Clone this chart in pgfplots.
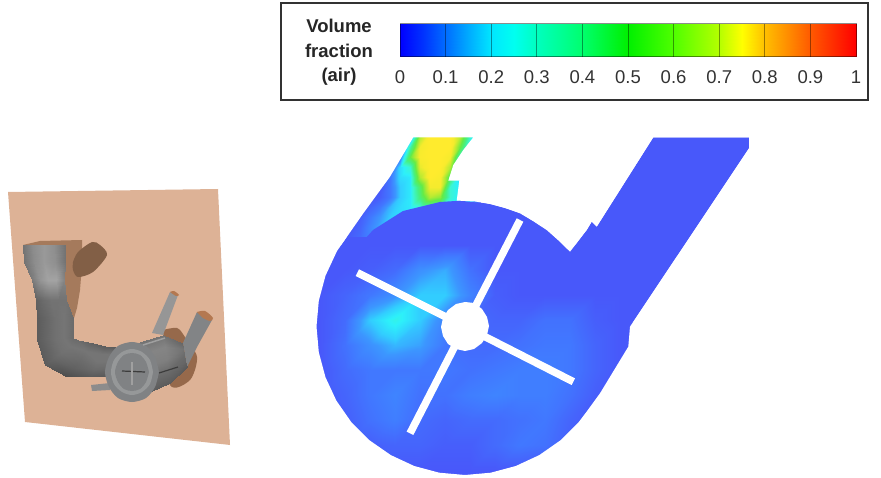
\documentclass[border=0pt]{standalone}
\usepackage{fontspec}
\setmainfont{Liberation Sans}
\usepackage{pgfplots}
\pgfplotsset{compat=1.18}
\pgfplotsset{
 colormap={barmap}{rgb255(0cm)=(0,0,255) rgb255(1cm)=(0,50,255) rgb255(2cm)=(0,110,255) rgb255(4cm)=(0,230,255) rgb255(5cm)=(0,255,240) rgb255(6cm)=(0,255,190) rgb255(8cm)=(0,255,110) rgb255(10cm)=(0,240,0) rgb255(12cm)=(80,255,0) rgb255(14cm)=(180,255,0) rgb255(15cm)=(255,255,0) rgb255(16cm)=(255,190,0) rgb255(18cm)=(255,90,0) rgb255(20cm)=(255,0,0)},
 colormap={fieldmap}{rgb255(0cm)=(72,88,250) rgb255(1cm)=(72,88,250) rgb255(2cm)=(65,120,255) rgb255(3cm)=(60,150,255) rgb255(4cm)=(50,205,255) rgb255(5cm)=(45,240,250) rgb255(6cm)=(60,245,210) rgb255(8cm)=(70,240,130) rgb255(10cm)=(100,235,70) rgb255(12cm)=(180,235,50) rgb255(14cm)=(245,235,45) rgb255(15cm)=(255,235,45) rgb255(20cm)=(255,235,45)},
 colormap={greymap}{rgb255(0cm)=(0,0,0) rgb255(1cm)=(255,255,255)},
}
\definecolor{plate}{RGB}{221,178,150}
\definecolor{basef}{RGB}{72,88,250}
\begin{document}
\begin{tikzpicture}
\path[use as bounding box] (0,0) rectangle (881pt,478pt);
\begin{axis}[scale only axis,width=881pt,height=478pt,xmin=0,xmax=881,ymin=0,ymax=478,y dir=reverse,hide axis,clip=false,point meta min=0,point meta max=1]
% --- 3D model
\addplot[fill=plate,draw=none] coordinates {(8,192)(218,189)(230,445)(25,422)};
\addplot[fill={rgb,255:red,165;green,122;blue,92},draw=none] coordinates {(23,245)(40,241)(82,240)(82,265)(80,290)(77,308)(72,325)(65,325)(60,270)};
\addplot[fill={rgb,255:red,130;green,95;blue,70},draw=none,smooth] coordinates {(73,262)(78,252)(92,242)(100,245)(107,255)(93,272)(78,277)(73,270)(73,262)};
\addplot[fill={rgb,255:red,150;green,105;blue,75},draw=none,smooth] coordinates {(163,330)(177,328)(185,337)(197,357)(190,380)(170,385)(163,330)};
\addplot[surf,shader=interp,colormap name=greymap,mesh/cols=5,mesh/rows=10,point meta=explicit] table[meta=c,row sep=\\] {
x y c\\
23 245 .45\\ 33.5 245 .55\\ 44 245 .6\\ 54.5 245 .56\\ 65 245 .45\\
24 262 .45\\ 34.25 262 .55\\ 44.5 262 .6\\ 54.75 262 .56\\ 65 262 .45\\
32 280 .48\\ 40 280 .58\\ 48 280 .64\\ 56 280 .64\\ 64 280 .52\\
36 300 .38\\ 43.5 300 .42\\ 51 300 .45\\ 58.5 300 .45\\ 66 300 .45\\
37 320 .36\\ 46 319.5 .4\\ 55 319 .44\\ 64 318.5 .46\\ 73 318 .42\\
37 340 .36\\ 46 339.5 .4\\ 55 339 .44\\ 64 338.5 .46\\ 73 338 .42\\
45 365 .36\\ 53 359 .4\\ 61.5 352.5 .44\\ 70 346 .46\\ 78 340 .42\\
67 377 .3\\ 73.5 368.5 .38\\ 80 360 .42\\ 86.5 351.5 .46\\ 93 343 .38\\
90 377 .35\\ 93.75 369.25 .42\\ 97.5 361.5 .46\\ 101.25 353.75 .46\\ 105 346 .36\\
125 375 .35\\ 125 368 .42\\ 125 361.5 .46\\ 125 355 .46\\ 125 348 .36\\
};
\addplot[fill={rgb,255:red,150;green,150;blue,150},draw=none] coordinates {(152,333)(170,292)(178,295)(163,335)};
\addplot[fill={rgb,255:red,130;green,132;blue,134},draw=none] coordinates {(183,343)(197,312)(212,320)(197,347)(187,367)};
\addplot[fill={rgb,255:red,180;green,120;blue,80},draw=none,smooth] coordinates {(197,312)(205,311)(213,318)(210,321)(203,318)(197,312)};
\addplot[fill={rgb,255:red,180;green,120;blue,80},draw=none,smooth] coordinates {(170,292)(174,291)(179,295)(176,296)(170,292)};
\addplot[surf,shader=interp,colormap name=greymap,mesh/cols=5,mesh/rows=3,point meta=explicit] table[meta=c,row sep=\\] {
x y c\\
123 347 .45\\ 125 360 .52\\ 127 373 .5\\ 129 387 .42\\ 132 400 .36\\
163 335 .45\\ 165 347 .52\\ 167 359 .5\\ 168 371 .42\\ 170 383 .36\\
182 343 .4\\ 183 349 .45\\ 184 355 .42\\ 185 361 .4\\ 187 367 .35\\
};
\addplot[fill={rgb,255:red,140;green,140;blue,140},draw=none] coordinates {(91,385)(110,383)(110,390)(92,391)};
\addplot[fill={rgb,255:red,128;green,130;blue,132},draw=none,smooth] coordinates {(159,372)(155,357)(146,346)(132,342)(118,346)(109,357)(105,372)(109,387)(118,398)(132,402)(146,398)(155,387)(159,372)};
\addplot[fill={rgb,255:red,150;green,152;blue,153},draw=none,smooth] coordinates {(153,372)(150,360)(142,352)(132,349)(122,352)(114,360)(111,372)(114,384)(122,392)(132,395)(142,392)(150,384)(153,372)};
\addplot[fill={rgb,255:red,128;green,130;blue,132},draw=none,smooth] coordinates {(149,372)(146,362)(140,355)(132,353)(124,355)(118,362)(115,372)(118,382)(124,389)(132,391)(140,389)(146,382)(149,372)};
\addplot[draw={rgb,255:red,60;green,60;blue,60},line width=1.2pt] coordinates {(122,371)(145,372)};
\addplot[draw={rgb,255:red,160;green,160;blue,160},line width=1.2pt] coordinates {(132,362)(132,385)};
\addplot[draw={rgb,255:red,60;green,60;blue,60},line width=1.2pt] coordinates {(159,373)(178,367)};
\addplot[draw={rgb,255:red,160;green,160;blue,160},line width=1.5pt] coordinates {(143,345)(165,338)};
% --- legend
\addplot[fill=white,draw={rgb,255:red,50;green,50;blue,50},line width=1.4pt] coordinates {(281,3)(868,3)(868,100)(281,100)} --cycle;
\addplot[surf,shader=interp,colormap name=barmap,mesh/cols=21,mesh/rows=2,point meta=explicit] table[meta=c,row sep=\\] {
x y c\\
400 24 0\\ 422.8 24 .05\\ 445.6 24 .1\\ 468.4 24 .15\\ 491.2 24 .2\\ 514 24 .25\\ 536.8 24 .3\\ 559.6 24 .35\\ 582.4 24 .4\\ 605.2 24 .45\\ 628 24 .5\\ 650.8 24 .55\\ 673.6 24 .6\\ 696.4 24 .65\\ 719.2 24 .7\\ 742 24 .75\\ 764.8 24 .8\\ 787.6 24 .85\\ 810.4 24 .9\\ 833.2 24 .95\\ 856 24 1\\
400 57 0\\ 422.8 57 .05\\ 445.6 57 .1\\ 468.4 57 .15\\ 491.2 57 .2\\ 514 57 .25\\ 536.8 57 .3\\ 559.6 57 .35\\ 582.4 57 .4\\ 605.2 57 .45\\ 628 57 .5\\ 650.8 57 .55\\ 673.6 57 .6\\ 696.4 57 .65\\ 719.2 57 .7\\ 742 57 .75\\ 764.8 57 .8\\ 787.6 57 .85\\ 810.4 57 .9\\ 833.2 57 .95\\ 856 57 1\\
};
\addplot[draw=black,opacity=.45,line width=1pt] coordinates {(400,24)(856,24)(856,57)(400,57)} --cycle;
\addplot[draw=black,opacity=.4,line width=1pt] coordinates {(445.6,24)(445.6,57)};
\addplot[draw=black,opacity=.4,line width=1pt] coordinates {(491.2,24)(491.2,57)};
\addplot[draw=black,opacity=.4,line width=1pt] coordinates {(536.8,24)(536.8,57)};
\addplot[draw=black,opacity=.4,line width=1pt] coordinates {(582.4,24)(582.4,57)};
\addplot[draw=black,opacity=.4,line width=1pt] coordinates {(628,24)(628,57)};
\addplot[draw=black,opacity=.4,line width=1pt] coordinates {(673.6,24)(673.6,57)};
\addplot[draw=black,opacity=.4,line width=1pt] coordinates {(719.2,24)(719.2,57)};
\addplot[draw=black,opacity=.4,line width=1pt] coordinates {(764.8,24)(764.8,57)};
\addplot[draw=black,opacity=.4,line width=1pt] coordinates {(810.4,24)(810.4,57)};
\node[font=\fontsize{18.5}{18.5}\selectfont\bfseries,text=black!85] at (axis cs:339,26) {Volume};
\node[font=\fontsize{18.5}{18.5}\selectfont\bfseries,text=black!85] at (axis cs:339,51) {fraction};
\node[font=\fontsize{18.5}{18.5}\selectfont\bfseries,text=black!85] at (axis cs:339,77) {(air)};
\foreach \xx/\tt in {400/0,445.6/0.1,491.2/0.2,536.8/0.3,582.4/0.4,628/0.5,673.6/0.6,719.2/0.7,764.8/0.8,810.4/0.9,856/1}{
\edef\tmp{\noexpand\node[font=\noexpand\fontsize{18.5}{18.5}\noexpand\selectfont,text=black!80] at (axis cs:\xx,77) {\tt};}\tmp
}
% --- field base
\addplot[fill=basef,draw=none] coordinates {(413.3,137.3)(390,176.7)(363.3,213.3)(337,251)(325.5,275.7)(318.8,300.7)(316.5,326.5)(318.8,352.3)(325.5,377.3)(336.4,400.7)(351.2,422)(369.5,440.3)(390.8,455.1)(414.2,466)(439.2,472.7)(465,475)(490.8,472.7)(515.8,466)(539.3,455.1)(560.5,440.3)(578.8,422)(586.6,411.7)(600,393.3)(628.3,346.7)(630,326.7)(749,148.3)(749,137.3)(653.3,137.3)(596.7,226.7)(591.7,221.7)(586.7,230)(570,251.7)(558,240)(546.7,230)(533,221)(520,213.3)(505,208)(490,204)(475,201.5)(460,200.7)(456.7,200.7)(459.3,180.7)(448.3,180.7)(453.3,165)(463.3,150)(473.3,137.3)};
% stream
\addplot[surf,shader=interp,colormap name=fieldmap,mesh/cols=15,mesh/rows=11,point meta=explicit] table[meta=c,row sep=\\] {
x y c\\
340 137 .05\\ 350 137 .05\\ 360 137 .05\\ 370 137 .05\\ 380 137 .05\\ 390 137 .05\\ 400 137 .05\\ 410 137 .1\\ 420 137 .6\\ 430 137 .75\\ 440 137 .75\\ 450 137 .75\\ 460 137 .6\\ 470 137 .3\\ 480 137 .1\\
340 147 .05\\ 350 147 .05\\ 360 147 .05\\ 370 147 .05\\ 380 147 .05\\ 390 147 .05\\ 400 147 .05\\ 410 147 .35\\ 420 147 .7\\ 430 147 .75\\ 440 147 .75\\ 450 147 .75\\ 460 147 .5\\ 470 147 .2\\ 480 147 .1\\
340 157 .05\\ 350 157 .05\\ 360 157 .05\\ 370 157 .05\\ 380 157 .05\\ 390 157 .05\\ 400 157 .1\\ 410 157 .5\\ 420 157 .72\\ 430 157 .75\\ 440 157 .75\\ 450 157 .7\\ 460 157 .3\\ 470 157 .1\\ 480 157 .1\\
340 167 .05\\ 350 167 .05\\ 360 167 .05\\ 370 167 .05\\ 380 167 .05\\ 390 167 .05\\ 400 167 .22\\ 410 167 .3\\ 420 167 .68\\ 430 167 .75\\ 440 167 .75\\ 450 167 .6\\ 460 167 .2\\ 470 167 .1\\ 480 167 .1\\
340 177 .05\\ 350 177 .05\\ 360 177 .05\\ 370 177 .05\\ 380 177 .05\\ 390 177 .1\\ 400 177 .22\\ 410 177 .24\\ 420 177 .6\\ 430 177 .75\\ 440 177 .72\\ 450 177 .45\\ 460 177 .22\\ 470 177 .2\\ 480 177 .05\\
340 187 .05\\ 350 187 .05\\ 360 187 .05\\ 370 187 .05\\ 380 187 .05\\ 390 187 .1\\ 400 187 .2\\ 410 187 .24\\ 420 187 .45\\ 430 187 .7\\ 440 187 .7\\ 450 187 .3\\ 460 187 .24\\ 470 187 .22\\ 480 187 .05\\
340 197 .05\\ 350 197 .05\\ 360 197 .05\\ 370 197 .05\\ 380 197 .06\\ 390 197 .1\\ 400 197 .2\\ 410 197 .24\\ 420 197 .42\\ 430 197 .6\\ 440 197 .55\\ 450 197 .3\\ 460 197 .24\\ 470 197 .22\\ 480 197 .05\\
340 207 .05\\ 350 207 .05\\ 360 207 .05\\ 370 207 .07\\ 380 207 .1\\ 390 207 .18\\ 400 207 .22\\ 410 207 .24\\ 420 207 .3\\ 430 207 .35\\ 440 207 .35\\ 450 207 .25\\ 460 207 .22\\ 470 207 .2\\ 480 207 .05\\
340 217 .05\\ 350 217 .05\\ 360 217 .06\\ 370 217 .1\\ 380 217 .15\\ 390 217 .2\\ 400 217 .22\\ 410 217 .22\\ 420 217 .22\\ 430 217 .22\\ 440 217 .22\\ 450 217 .2\\ 460 217 .2\\ 470 217 .1\\ 480 217 .05\\
340 227 .05\\ 350 227 .05\\ 360 227 .07\\ 370 227 .12\\ 380 227 .17\\ 390 227 .18\\ 400 227 .1\\ 410 227 .05\\ 420 227 .05\\ 430 227 .05\\ 440 227 .05\\ 450 227 .05\\ 460 227 .05\\ 470 227 .05\\ 480 227 .05\\
340 237 .05\\ 350 237 .06\\ 360 237 .08\\ 370 237 .12\\ 380 237 .12\\ 390 237 .1\\ 400 237 .05\\ 410 237 .05\\ 420 237 .05\\ 430 237 .05\\ 440 237 .05\\ 450 237 .05\\ 460 237 .05\\ 470 237 .05\\ 480 237 .05\\
};
% disc over the stream
\addplot[fill=basef,draw=none] coordinates {(335,280)(345,262)(357,248)(373,230)(403,211)(440,202)(460,200.7)(490,204)(520,213)(547,230)(570,251)(640,330)(640,478)(310,478)(300,300)};
% disc blobs
\addplot[surf,shader=interp,colormap name=fieldmap,mesh/cols=13,mesh/rows=10,point meta=explicit] table[meta=c,row sep=\\] {
x y c\\
320 245 .05\\ 345 245 .05\\ 370 245 .05\\ 395 245 .05\\ 420 245 .05\\ 445 245 .05\\ 470 245 .05\\ 495 245 .05\\ 520 245 .05\\ 545 245 .05\\ 570 245 .05\\ 595 245 .05\\ 620 245 .05\\
320 270 .05\\ 345 270 .05\\ 370 270 .06\\ 395 270 .08\\ 420 270 .14\\ 445 270 .17\\ 470 270 .09\\ 495 270 .05\\ 520 270 .05\\ 545 270 .05\\ 570 270 .05\\ 595 270 .05\\ 620 270 .05\\
320 295 .05\\ 345 295 .07\\ 370 295 .1\\ 395 295 .14\\ 420 295 .2\\ 445 295 .2\\ 470 295 .12\\ 495 295 .06\\ 520 295 .05\\ 545 295 .05\\ 570 295 .05\\ 595 295 .05\\ 620 295 .05\\
320 320 .05\\ 345 320 .08\\ 370 320 .2\\ 395 320 .27\\ 420 320 .2\\ 445 320 .12\\ 470 320 .08\\ 495 320 .07\\ 520 320 .07\\ 545 320 .09\\ 570 320 .09\\ 595 320 .06\\ 620 320 .05\\
320 345 .05\\ 345 345 .09\\ 370 345 .14\\ 395 345 .18\\ 420 345 .16\\ 445 345 .1\\ 470 345 .08\\ 495 345 .08\\ 520 345 .09\\ 545 345 .1\\ 570 345 .1\\ 595 345 .07\\ 620 345 .05\\
320 370 .05\\ 345 370 .08\\ 370 370 .1\\ 395 370 .1\\ 420 370 .1\\ 445 370 .1\\ 470 370 .09\\ 495 370 .1\\ 520 370 .11\\ 545 370 .11\\ 570 370 .1\\ 595 370 .07\\ 620 370 .05\\
320 395 .05\\ 345 395 .07\\ 370 395 .1\\ 395 395 .12\\ 420 395 .09\\ 445 395 .09\\ 470 395 .11\\ 495 395 .12\\ 520 395 .11\\ 545 395 .11\\ 570 395 .09\\ 595 395 .06\\ 620 395 .05\\
320 420 .05\\ 345 420 .06\\ 370 420 .09\\ 395 420 .11\\ 420 420 .08\\ 445 420 .07\\ 470 420 .08\\ 495 420 .08\\ 520 420 .09\\ 545 420 .1\\ 570 420 .07\\ 595 420 .05\\ 620 420 .05\\
320 445 .05\\ 345 445 .05\\ 370 445 .06\\ 395 445 .07\\ 420 445 .07\\ 445 445 .06\\ 470 445 .06\\ 495 445 .08\\ 520 445 .1\\ 545 445 .09\\ 570 445 .06\\ 595 445 .05\\ 620 445 .05\\
320 470 .05\\ 345 470 .05\\ 370 470 .05\\ 395 470 .05\\ 420 470 .05\\ 445 470 .05\\ 470 470 .05\\ 495 470 .05\\ 520 470 .05\\ 545 470 .05\\ 570 470 .05\\ 595 470 .05\\ 620 470 .05\\
};
% white mask around the field outline
\addplot[fill=white,draw=none,even odd rule] coordinates {(296,128)(296,478)(775,478)(775,128)(296,128)(413.3,137.3)(390,176.7)(363.3,213.3)(337,251)(325.5,275.7)(318.8,300.7)(316.5,326.5)(318.8,352.3)(325.5,377.3)(336.4,400.7)(351.2,422)(369.5,440.3)(390.8,455.1)(414.2,466)(439.2,472.7)(465,475)(490.8,472.7)(515.8,466)(539.3,455.1)(560.5,440.3)(578.8,422)(586.6,411.7)(600,393.3)(628.3,346.7)(630,326.7)(749,148.3)(749,137.3)(653.3,137.3)(596.7,226.7)(591.7,221.7)(586.7,230)(570,251.7)(558,240)(546.7,230)(533,221)(520,213.3)(505,208)(490,204)(475,201.5)(460,200.7)(456.7,200.7)(459.3,180.7)(448.3,180.7)(453.3,165)(463.3,150)(473.3,137.3)(413.3,137.3)(296,128)};
% blades and hub
\addplot[draw=white,line width=7.5pt] coordinates {(520,220)(465,326.5)};
\addplot[draw=white,line width=7.5pt] coordinates {(357.3,272.7)(465,326.5)};
\addplot[draw=white,line width=7.5pt] coordinates {(410,433.3)(465,326.5)};
\addplot[draw=white,line width=7.5pt] coordinates {(573.3,381.7)(465,326.5)};
\addplot[fill=white,draw=none] coordinates {(489,326)(487,335)(482,343)(474,349)(465,351)(456,349)(448,344)(443,336)(441,327)(443,318)(448,310)(456,304)(465,302)(474,303)(482,309)(487,317)};
\end{axis}
\end{tikzpicture}
\end{document}
